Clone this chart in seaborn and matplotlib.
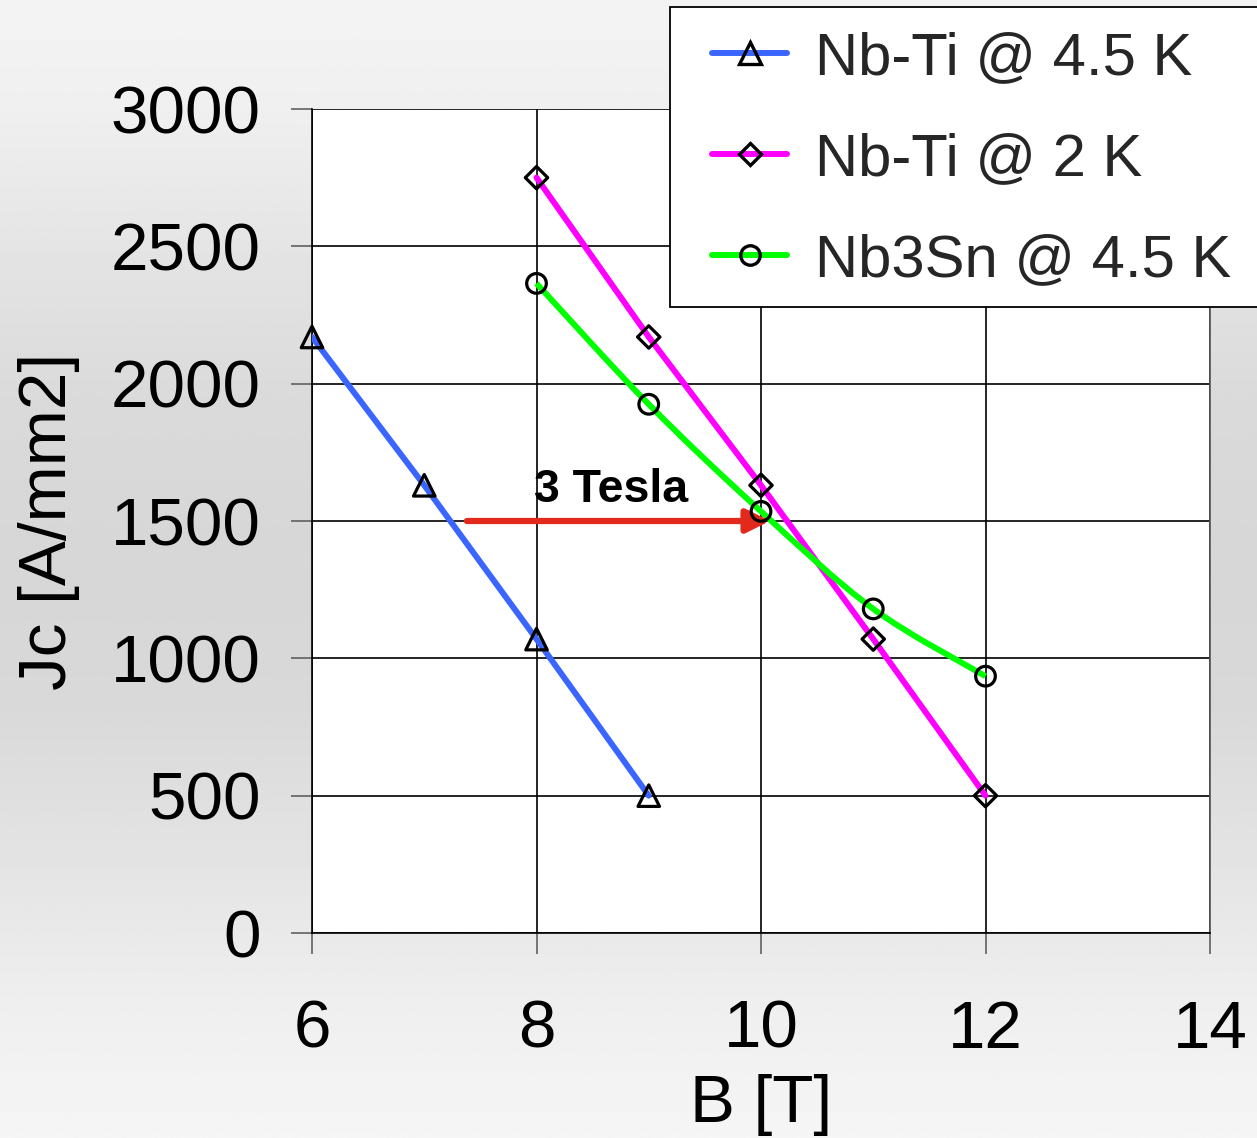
import numpy as np
import pandas as pd
import matplotlib
matplotlib.use("Agg")
import matplotlib.pyplot as plt
from matplotlib.lines import Line2D
from matplotlib.path import Path
from matplotlib.patches import PathPatch, Rectangle
import seaborn as sns

# Critical current density vs. field
b_nbti_45 = [6, 7, 8, 9]
jc_nbti_45 = [2170, 1630, 1070, 500]
b_nbti_2 = [8, 9, 10, 11, 12]
jc_nbti_2 = [2750, 2170, 1630, 1070, 500]
b_nb3sn = [8, 9, 10, 11, 12]
jc_nb3sn = [2365, 1925, 1535, 1180, 935]

series_names = ["Nb-Ti @ 4.5 K", "Nb-Ti @ 2 K", "Nb3Sn @ 4.5 K"]
series_colors = ["#3a66ff", "#ff00ff", "#00ff00"]
series_markers = ["^", "D", "o"]

x_ticks = [6, 8, 10, 12, 14]
y_ticks = [0, 500, 1000, 1500, 2000, 2500, 3000]

shift_label = "3 Tesla"
shift_from = (7.38, 1500)
shift_to = (10.08, 1500)

df = pd.concat([
    pd.DataFrame({"B": b_nbti_45, "Jc": jc_nbti_45, "series": series_names[0]}),
    pd.DataFrame({"B": b_nbti_2, "Jc": jc_nbti_2, "series": series_names[1]}),
    pd.DataFrame({"B": b_nb3sn, "Jc": jc_nb3sn, "series": series_names[2]}),
], ignore_index=True)

sns.set_theme(style="white")
plt.rcParams["font.family"] = ["Liberation Sans", "DejaVu Sans"]

W, H = 1257, 1138
fig = plt.figure(figsize=(W / 100, H / 100), dpi=100)

# vertical grey gradient behind everything
bg = fig.add_axes([0, 0, 1, 1], zorder=-10)
rows = np.linspace(0, 1, 400)
stops_y = [0.0, 0.09, 0.22, 0.35, 0.5, 0.62, 0.75, 0.88, 1.0]
stops_v = [0.955, 0.94, 0.895, 0.855, 0.84, 0.85, 0.89, 0.935, 0.962]
grad = np.interp(rows, stops_y, stops_v)
bg.imshow(np.repeat(grad[:, None], 2, axis=1), cmap="gray", vmin=0, vmax=1,
          aspect="auto", extent=[0, 1, 0, 1], origin="upper")
bg.set_axis_off()

ax = fig.add_axes([312 / W, 1 - 933 / H, (1210 - 312) / W, (933 - 109) / H])
ax.set_facecolor("white")

lw = 4.3
# straight-segment series
straight = df[df["series"] != series_names[2]]
sns.lineplot(data=straight, x="B", y="Jc", hue="series",
             palette=dict(zip(series_names[:2], series_colors[:2])),
             linewidth=lw, legend=False, ax=ax, zorder=3, sort=False)

# smoothed Nb3Sn curve (Catmull-Rom as cubic Bezier)
pts = np.column_stack([b_nb3sn, jc_nb3sn]).astype(float)
ext = np.vstack([pts[0], pts, pts[-1]])
verts = [tuple(pts[0])]
codes = [Path.MOVETO]
for i in range(len(pts) - 1):
    p0, p1, p2, p3 = ext[i], ext[i + 1], ext[i + 2], ext[i + 3]
    c1 = p1 + (p2 - p0) / 6.0
    c2 = p2 - (p3 - p1) / 6.0
    verts += [tuple(c1), tuple(c2), tuple(p2)]
    codes += [Path.CURVE4] * 3
ax.add_patch(PathPatch(Path(verts, codes), facecolor="none",
                       edgecolor=series_colors[2], linewidth=lw, zorder=3,
                       capstyle="butt"))

# open markers on top
marker_sizes = {"^": 240, "D": 130, "o": 200}
for name, mk in zip(series_names, series_markers):
    sub = df[df["series"] == name]
    sns.scatterplot(data=sub, x="B", y="Jc", marker=mk, s=marker_sizes[mk],
                    facecolor="none", edgecolor="black", linewidth=2.3,
                    ax=ax, zorder=5, clip_on=False, legend=False)

ax.set_xlim(6, 14)
ax.set_ylim(0, 3000)
ax.set_xticks(x_ticks)
ax.set_yticks(y_ticks)
ax.grid(True, color="black", linewidth=1.2)
ax.set_axisbelow(True)
for side in ["left", "bottom"]:
    ax.spines[side].set_color("black")
    ax.spines[side].set_linewidth(1.2)
ax.spines["right"].set_color("#555555")
ax.spines["right"].set_linewidth(1.2)
ax.spines["top"].set_visible(False)

ax.tick_params(axis="both", which="major", direction="out", length=15,
               width=1.1, color="#555555", labelsize=48.5, labelcolor="black")
ax.tick_params(axis="y", pad=22, left=True)
ax.tick_params(axis="x", pad=33, bottom=True)

ax.set_xlabel("B [T]", fontsize=48.5, labelpad=9, color="black")
ax.set_ylabel("Jc [A/mm2]", fontsize=48.5, labelpad=22, color="black")

# field-gain arrow
ax.annotate("", xy=shift_to, xytext=shift_from,
            arrowprops=dict(arrowstyle="-|>", color="#e3281c", lw=4.5,
                            mutation_scale=35, shrinkA=0, shrinkB=0),
            zorder=4)
ax.text(8.66, 1570, shift_label,
        fontsize=33.5, fontweight="bold", ha="center", va="baseline",
        color="black", zorder=6)

# legend box: frame drawn as a figure rectangle running off the right edge
fig.patches.append(Rectangle((670 / W, 1 - 307 / H), 700 / W, 300 / H,
                             transform=fig.transFigure, facecolor="white",
                             edgecolor="black", linewidth=1.3, zorder=20))
handles = [
    Line2D([], [], color=c, linewidth=lw, marker=m,
           markersize={"^": 15.5, "D": 11.5, "o": 14}[m],
           markerfacecolor="none", markeredgecolor="black",
           markeredgewidth=2.4)
    for c, m in zip(series_colors, series_markers)
]
leg = fig.legend(handles, series_names, loc="upper left",
                 bbox_to_anchor=(712 / W, 1 - 31 / H), fontsize=43,
                 frameon=False, handlelength=1.26, handletextpad=0.47,
                 labelspacing=0.77, borderpad=0, borderaxespad=0)
leg.set_zorder(21)

fig.savefig("out.png", dpi=100)
